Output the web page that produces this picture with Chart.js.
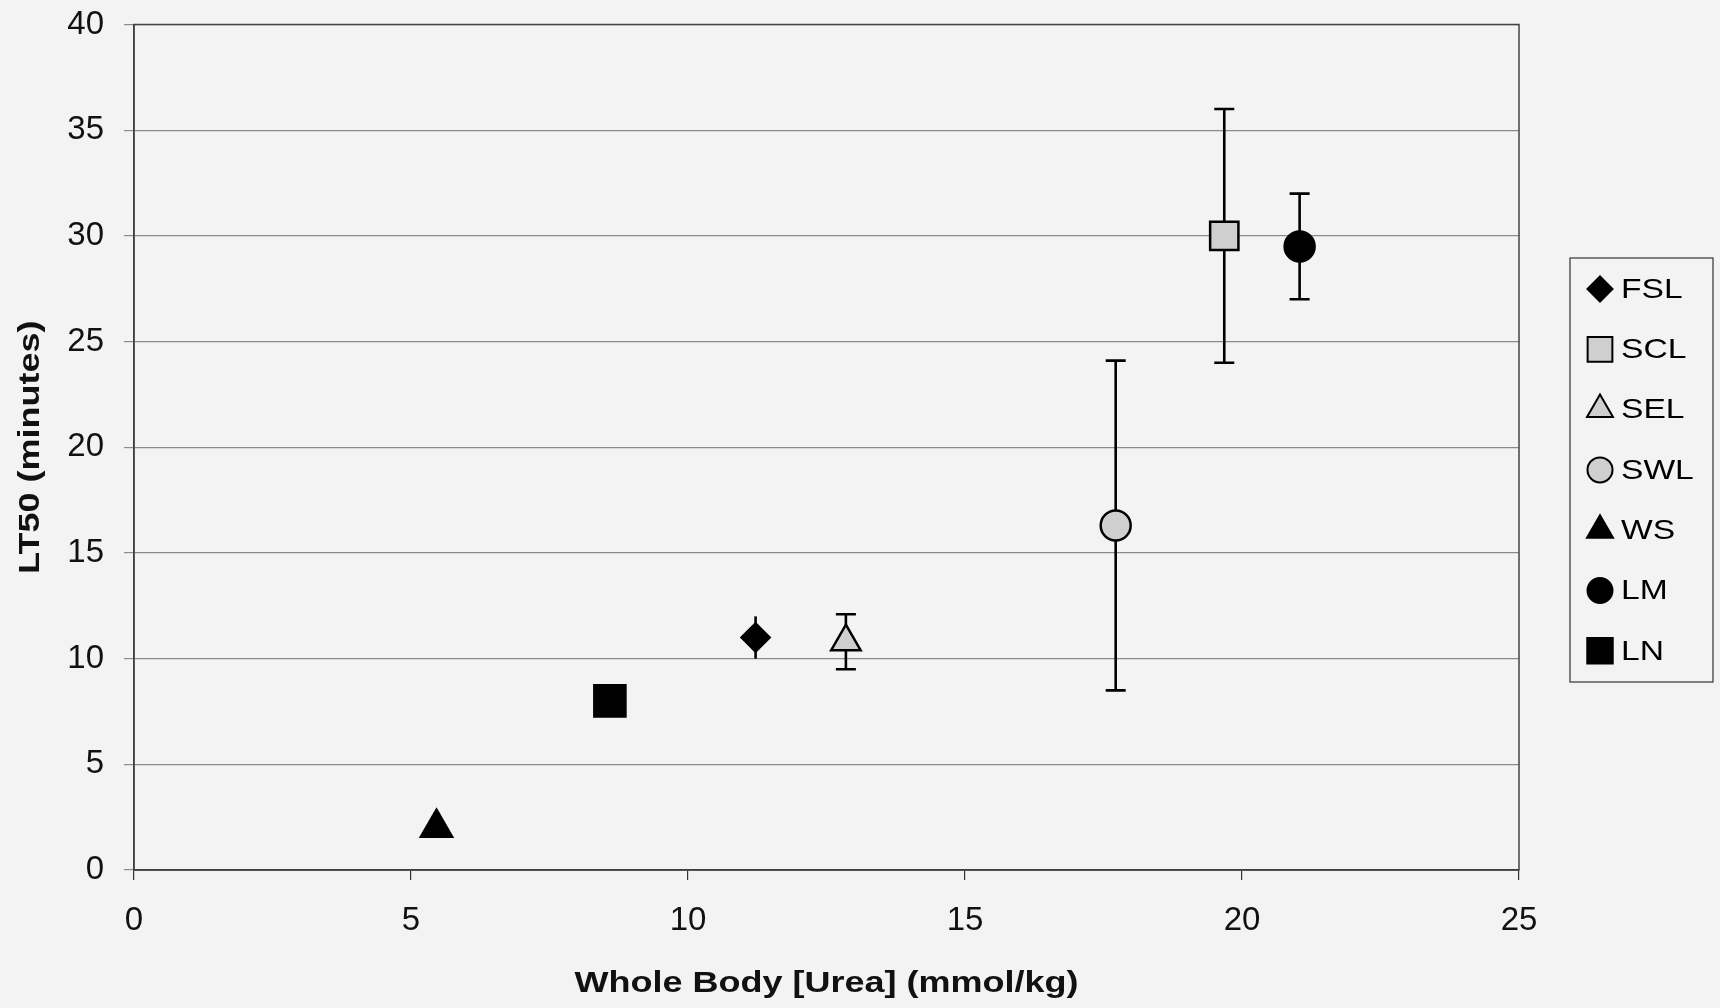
<!DOCTYPE html>
<html>
<head>
<meta charset="utf-8">
<script src="https://cdn.jsdelivr.net/npm/chart.js@4.4.1/dist/chart.umd.min.js"></script>
<style>
  html, body { margin: 0; padding: 0; background: #f3f3f3; }
  #wrap { width: 1720px; height: 1008px; }
</style>
</head>
<body>
<div id="wrap"><canvas id="myChart" width="1720" height="1008"></canvas></div>
<script>
// LT50 vs whole body urea, one series per group
var seriesNames = ["FSL", "SCL", "SEL", "SWL", "WS", "LM", "LN"];
var ureaValues = [11.22, 19.68, 12.85, 17.72, 5.46, 21.04, 8.59];
var lt50Values = [11.0, 30.0, 10.8, 16.3, 2.0, 29.5, 8.0];
var lt50Errors = [1.0, 6.0, 1.3, 7.8, 0, 2.5, 0];
var xTicks = [0, 5, 10, 15, 20, 25];
var yTicks = [0, 5, 10, 15, 20, 25, 30, 35, 40];
var xTitle = "Whole Body [Urea] (mmol/kg)";
var yTitle = "LT50 (minutes)";

var markerStyles = ["rectRot", "rect", "triangle", "circle", "triangle", "circle", "rect"];
var markerFills = ["#000", "#cfcfcf", "#cfcfcf", "#cfcfcf", "#000", "#000", "#000"];
var markerSizes = [14, 20, 17, 15, 18, 15, 22];
var legendSizes = [12.5, 17.5, 15, 12.5, 15, 12.5, 18];
var capWidths = [0, 10, 10, 10, 10, 10, 10];

var FONT = "'Liberation Sans', Arial, sans-serif";

var datasets = seriesNames.map(function (name, i) {
	return {
		label: name,
		data: [{ x: ureaValues[i], y: lt50Values[i] }],
		pointStyle: markerStyles[i],
		pointRadius: markerSizes[i],
		pointHoverRadius: markerSizes[i],
		backgroundColor: markerFills[i],
		borderColor: "#000",
		pointBorderWidth: 2.5,
		showLine: false
	};
});

// error bars, drawn under the markers
var errorBars = {
	id: "errorBars",
	beforeDatasetsDraw: function (chart) {
		var ctx = chart.ctx, xs = chart.scales.x, ys = chart.scales.y;
		ctx.save();
		ctx.strokeStyle = "#000";
		ctx.lineWidth = 2.6;
		for (var i = 0; i < seriesNames.length; i++) {
			if (!lt50Errors[i]) continue;
			var px = xs.getPixelForValue(ureaValues[i]);
			var top = ys.getPixelForValue(lt50Values[i] + lt50Errors[i]);
			var bot = ys.getPixelForValue(lt50Values[i] - lt50Errors[i]);
			var c = capWidths[i];
			ctx.beginPath();
			ctx.moveTo(px, top); ctx.lineTo(px, bot);
			if (c) {
				ctx.moveTo(px - c, top); ctx.lineTo(px + c, top);
				ctx.moveTo(px - c, bot); ctx.lineTo(px + c, bot);
			}
			ctx.stroke();
		}
		ctx.restore();
	}
};

// box round the plot area
var plotBox = {
	id: "plotBox",
	beforeDatasetsDraw: function (chart) {
		var a = chart.chartArea, ctx = chart.ctx;
		ctx.save();
		ctx.strokeStyle = "#444";
		ctx.lineWidth = 1.5;
		ctx.strokeRect(a.left, a.top, a.right - a.left, a.bottom - a.top);
		ctx.restore();
	}
};

// the original's text is stretched a bit wider than normal
function wideText(ctx, text, x, y, stretch) {
	ctx.save();
	ctx.translate(x, y);
	ctx.scale(stretch, 1);
	ctx.fillText(text, 0, 0);
	ctx.restore();
}

// axis titles
var axisTitles = {
	id: "axisTitles",
	afterDraw: function (chart) {
		var ctx = chart.ctx, a = chart.chartArea;
		ctx.save();
		ctx.fillStyle = "#111";
		ctx.font = "bold 30px " + FONT;
		ctx.textAlign = "center";
		ctx.textBaseline = "middle";
		wideText(ctx, xTitle, (a.left + a.right) / 2, 984, 1.2);
		ctx.translate(31, (a.top + a.bottom) / 2);
		ctx.rotate(-Math.PI / 2);
		wideText(ctx, yTitle, 0, 0, 1.2);
		ctx.restore();
	}
};

// legend with a border, like the original
var boxLegend = {
	id: "boxLegend",
	afterDraw: function (chart) {
		var ctx = chart.ctx;
		var left = 1570, top = 258, w = 143, h = 424;
		ctx.save();
		ctx.fillStyle = "#f3f3f3";
		ctx.fillRect(left, top, w, h);
		ctx.strokeStyle = "#333";
		ctx.lineWidth = 1.2;
		ctx.strokeRect(left, top, w, h);
		ctx.font = "28px " + FONT;
		ctx.textBaseline = "middle";
		for (var i = 0; i < seriesNames.length; i++) {
			var cy = top + 31 + i * 60.3;
			ctx.fillStyle = markerFills[i];
			ctx.strokeStyle = "#000";
			ctx.lineWidth = 2;
			Chart.helpers.drawPoint(ctx, { pointStyle: markerStyles[i], radius: legendSizes[i], rotation: 0, borderWidth: 2 }, left + 30, cy);
			ctx.fillStyle = "#000";
			wideText(ctx, seriesNames[i], left + 51, cy + 1, 1.2);
		}
		ctx.restore();
	}
};

var ctx = document.getElementById("myChart");
var myScatter = new Chart(ctx, {
	type: "scatter",
	data: { datasets: datasets },
	plugins: [errorBars, plotBox, axisTitles, boxLegend],
	options: {
		responsive: false,
		animation: false,
		events: [],
		layout: { padding: { left: 10, right: 201, top: 24, bottom: 0 } },
		plugins: { legend: { display: false }, tooltip: { enabled: false } },
		scales: {
			x: {
				type: "linear",
				min: 0, max: 25,
				afterBuildTicks: function (s) { s.ticks = xTicks.map(function (v) { return { value: v }; }); },
				afterFit: function (s) { s.height = 138; s.paddingLeft = 0; s.paddingRight = 0; },
				grid: { display: true, drawOnChartArea: false, drawTicks: true, tickLength: 10, color: "#333", lineWidth: 1.2 },
				border: { display: true, color: "#333", width: 1.5 },
				ticks: { color: "#111", padding: 21, font: { family: FONT, size: 33 } },
				title: { display: false }
			},
			y: {
				type: "linear",
				min: 0, max: 40,
				afterBuildTicks: function (s) { s.ticks = yTicks.map(function (v) { return { value: v }; }); },
				afterFit: function (s) { s.width = 124; s.paddingTop = 0; s.paddingBottom = 0; },
				grid: { display: true, drawTicks: true, tickLength: 10, color: "#8a8a8a", lineWidth: 1.2 },
				border: { display: true, color: "#333", width: 1.5 },
				ticks: { color: "#111", padding: 20, font: { family: FONT, size: 33 } },
				title: { display: false }
			}
		}
	}
});
</script>
</body>
</html>
